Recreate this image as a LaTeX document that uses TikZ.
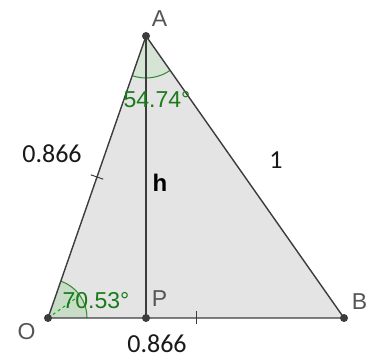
\documentclass[tikz,border=0pt]{standalone}
\usepackage{fontspec}
\setmainfont{Liberation Sans}
\newfontfamily\numfont{Carlito}
\usetikzlibrary{angles, calc, positioning}
\definecolor{edgegray}{HTML}{3C3C3C}
\definecolor{labelgray}{HTML}{555555}
\definecolor{trigray}{HTML}{E4E4E4}
\definecolor{anglegreen}{HTML}{2E8B2E}
\definecolor{angletext}{HTML}{1A7A1A}
\definecolor{anglefillA}{HTML}{D6E4D6}
\definecolor{anglefillO}{HTML}{C8DCC8}

\begin{document}
\begin{tikzpicture}[x=1pt, y=1pt,
    edge/.style={draw=edgegray, line width=1.4pt},
    pt/.style={circle, fill=edgegray, minimum size=8pt, inner sep=0pt},
    ptlabel/.style={text=labelgray, font=\fontsize{23}{23}\selectfont},
    numlabel/.style={text=black!90, inner sep=0pt, font=\numfont\fontsize{26}{26}\selectfont},
    anglelabel/.style={text=angletext, font=\fontsize{23}{23}\selectfont}]
  \useasboundingbox (0,0) rectangle (377,358);

  % corners of the triangle and foot of the height
  \coordinate (O) at (48,40);
  \coordinate (A) at (146,322);
  \coordinate (B) at (344,40);
  \coordinate (P) at (146,40);

  % grey face
  \fill[trigray] (O) -- (A) -- (B) -- cycle;

  % the two marked angles
  \pic[draw=anglegreen, fill=anglefillA, line width=1pt, angle radius=42pt] {angle = O--A--B};
  \pic[draw=anglegreen, fill=anglefillO, line width=1pt, angle radius=39pt] {angle = B--O--A};
  \draw[green!70!black, dashed, line width=1pt] (O) -- ++(35.3:38);

  % sides and the height
  \draw[edge] (O) -- (A) -- (B) -- cycle;
  \draw[edge] (A) -- (P);

  % equal-length ticks
  \draw[edge, line width=1pt] ($(O)!0.5!(A)!6.5pt!90:(A)$) -- ($(O)!0.5!(A)!6.5pt!-90:(A)$);
  \draw[edge, line width=1pt] ($(O)!0.5!(B)!6.5pt!90:(B)$) -- ($(O)!0.5!(B)!6.5pt!-90:(B)$);

  % points
  \foreach \p in {O,A,B,P}{
    \node[pt] at (\p) (dot\p) {};
  }

  % names of the points
  \node[ptlabel] at (159.5,339.5) (labA) {A};
  \node[ptlabel] at (359.5,56) (labB) {B};
  \node[ptlabel] at (26.5,26.5) (labO) {O};
  \node[ptlabel] at (159.5,59.5) (labP) {P};

  % lengths
  \node[numlabel] at (52,204) (lenOA) {0.866};
  \node[numlabel] at (157,14) (lenOP) {0.866};
  \node[numlabel] at (276,197.5) (lenAB) {1};
  \node[font=\bfseries\fontsize{24}{24}\selectfont] at (160,175.5) (labh) {h};

  % angle values
  \node[anglelabel] at (157,258) (angA) {54.74°};
  \node[anglelabel] at (96,57) (angO) {70.53°};
\end{tikzpicture}
\end{document}
